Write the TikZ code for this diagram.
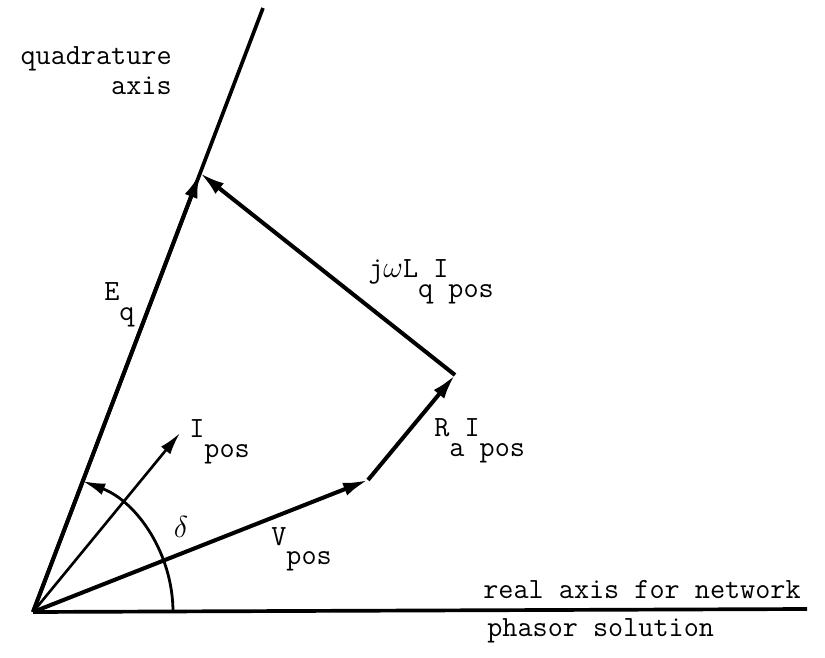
\documentclass[tikz,border=0pt]{standalone}
\usepackage{fontspec}
\usetikzlibrary{arrows.meta, positioning, calc}

\newcommand{\subtt}[1]{\raisebox{-0.68em}{#1}}

\begin{document}
\begin{tikzpicture}[x=0.02cm, y=-0.02cm,
            axis/.style={line width=2.1pt},
            phasor/.style={line width=2.3pt, -{Latex[length=0.5cm, width=0.27cm]}},
            thinphasor/.style={line width=1.5pt, -{Latex[length=0.45cm, width=0.24cm]}},
            anglearc/.style={line width=1.6pt, -{Latex[length=0.45cm, width=0.24cm]}},
            varlabel/.style={font=\ttfamily\fontsize{16.7}{19}\selectfont, inner sep=0pt, anchor=base west}
        ]
        \useasboundingbox (0,0) rectangle (825,658);

        % Punkte
        \coordinate (o) at (33,612);
        \coordinate (re) at (807,609);
        \coordinate (qa) at (263,8);
        \coordinate (eq) at (200,173);
        \coordinate (v) at (368,480);
        \coordinate (ra) at (455,375);
        \coordinate (ip) at (180,433);

        % Achsen
        \draw[axis] (o) -- (re);
        \draw[axis] (o) -- (qa);

        % Zeiger
        \draw[phasor] (o) -- (eq);
        \draw[phasor] (o) -- (v);
        \draw[phasor] (v) -- (ra);
        \draw[phasor] (ra) -- (eq);
        \draw[thinphasor] (o) -- (ip);
        \draw[anglearc] ($(o)+(140,0)$) arc[start angle=0, end angle=-69.2, radius=140];

        % Beschriftung
        \node[varlabel, anchor=base east] (quad) at (172,65) {quadrature};
        \node[varlabel, anchor=base east] (quadaxis) at (172,95) {axis};
        \node[varlabel] (eqlabel) at (104,301) {E\subtt{q}};
        \node[varlabel] (iplabel) at (189,438) {I\subtt{pos}};
        \node[varlabel] (ralabel) at (434,437) {R\subtt{a}I\subtt{pos}};
        \node[varlabel] (vlabel) at (271,545) {V\subtt{pos}};
        \node[varlabel] (jwlabel) at (368,278) {j$\omega$L\subtt{q}I\subtt{pos}};
        \node[varlabel, anchor=center] (delta) at (181,527) {$\delta$};
        \node[varlabel] (relabel) at (483,598) {real axis for network};
        \node[varlabel] (phlabel) at (487,636) {phasor solution};

    \end{tikzpicture}
\end{document}
